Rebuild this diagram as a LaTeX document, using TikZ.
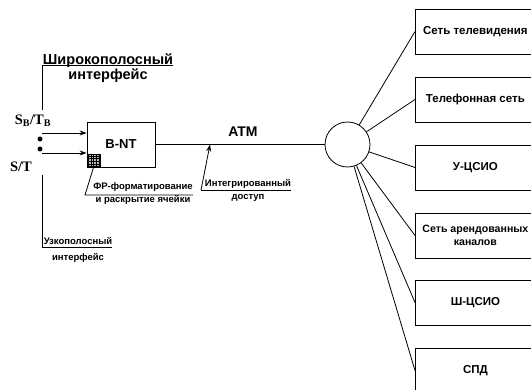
\documentclass[tikz,border=0pt]{standalone}
\usepackage{fontspec}
\setmainfont{Liberation Sans}
\newfontfamily\timesfont{Liberation Serif}
\usepackage{tikz}
\usetikzlibrary{calc,arrows.meta,positioning}
\tikzset{
  wire/.style={line width=0.8pt},
  netbox/.style={draw,wire,anchor=west,minimum width=120pt,minimum height=45pt,align=center},
  note/.style={align=center,inner sep=0pt,font=\fontsize{9.5}{13}\selectfont\bfseries},
  bignote/.style={align=center,inner sep=0pt,font=\fontsize{14.5}{15.5}\selectfont\bfseries},
  refpt/.style={inner sep=0pt,font=\timesfont\fontsize{14.5}{14}\selectfont\bfseries},
  dot/.style={circle,fill,inner sep=0pt,minimum size=5pt}
}
\tikzstyle{arrow} = [wire,-{Stealth[length=7pt,width=5pt]}]

\begin{document}
\begin{tikzpicture}[x=1pt,y=-1pt]
  \useasboundingbox (0,0) rectangle (531,390);
  \clip (0,0) rectangle (531,390);
  % terminal side
  \node[draw,wire,minimum width=68pt,minimum height=45pt,
    font=\fontsize{13}{13}\selectfont\bfseries] (bnt) at (121,144.5) {B-NT};
  \node[draw,wire,fill=gray!55,minimum size=13pt,inner sep=0pt,anchor=south west]
    (cell) at (bnt.south west) {};
  \draw[step=2.6pt,line width=0.4pt] (cell.south west) grid (cell.north east);
  \coordinate (sb) at (42,133);
  \coordinate (st) at (42,153);
  \draw[arrow] (sb) -- (sb -| bnt.west);
  \draw[arrow] (st) -- (st -| cell.west);
  \node[dot] (d1) at (40,139) {};
  \node[dot] (d2) at (40,149) {};
  \node[refpt] (sbtb) at (33,121) {S\textsubscript{B}/T\textsubscript{B}};
  \node[refpt] (stl) at (21,167) {S/T};
  % interfaces
  \node[bignote] (wide) at (108,68) {Широкополосный\\интерфейс};
  \coordinate (wb) at (42,110);
  \coordinate (wk) at (42,65);
  \draw[wire] (wb) -- (wk) -- (wk -| wide.east);
  \node[note,font=\fontsize{9.5}{15.5}\selectfont\bfseries] (narrow) at (78,250) {Узкополосный\\интерфейс};
  \coordinate (nb) at (42,175);
  \coordinate (nk) at (42,247);
  \draw[wire] (nb) -- (nk) -- (nk -| narrow.east);
  \node[note] (frnote) at (143,193.5) {ФР-форматирование\\и раскрытие ячейки};
  \coordinate (frk) at (85,195);
  \draw[wire] (cell.south) -- (frk) -- (frk -| frnote.east);
  % ATM link
  \node[circle,draw,wire,minimum size=45pt,inner sep=0pt] (hub) at (347.5,144.5) {};
  \draw[wire] (bnt.east) -- (hub.west);
  \node[font=\fontsize{14}{14}\selectfont\bfseries] (atm) at (243,132) {ATM};
  \node[note] (intnote) at (248,190.5) {Интегрированный\\доступ};
  \coordinate (ink) at (201,190);
  \coordinate (atmpt) at (210,144.5);
  \draw[arrow] (ink) -- (atmpt);
  \draw[wire] (ink) -- (ink -| intnote.east);
  % networks
  \foreach \N/\Y/\S/\T in {tv/31.5/11.5/{Сеть телевидения},tel/99.5/11.5/{Телефонная сеть},
      nisdn/167.5/11.5/{У-ЦСИО},lease/235.5/10.6/{Сеть арендованных\\каналов},
      bisdn/302.5/11.5/{Ш-ЦСИО},spd/370.5/11.5/{СПД}}{
    \node[netbox,font=\fontsize{\S}{12.5}\selectfont\bfseries] (\N) at (415,\Y) {\T};
    \draw[wire] (hub) -- (\N.west);
  }
\end{tikzpicture}
\end{document}
